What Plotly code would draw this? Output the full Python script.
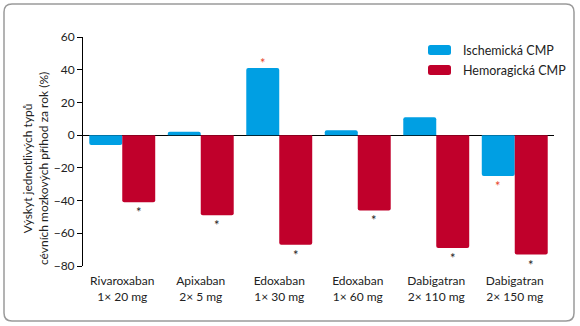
import plotly.graph_objects as go

# Drug regimens (two-line tick labels)
categories = [
    "Rivaroxaban<br>1× 20 mg",
    "Apixaban<br>2× 5 mg",
    "Edoxaban<br>1× 30 mg",
    "Edoxaban<br>1× 60 mg",
    "Dabigatran<br>2× 110 mg",
    "Dabigatran<br>2× 150 mg",
]

# Change in stroke incidence per year (%)
ischemic = [-6, 2, 41, 3, 11, -25]
hemorrhagic = [-41, -49, -67, -46, -69, -73]

# Statistically significant differences, marked with an asterisk
ischemic_sig = [False, False, True, False, False, True]
hemorrhagic_sig = [True, True, True, True, True, True]

series_names = ["Ischemická CMP", "Hemoragická CMP"]
y_title = "Výskyt jednotlivých typů<br>cévních mozkových příhod za rok (%)"

BLUE = "#009fe3"
RED = "#c0002b"
FONT = "Lato"
TXT = "#222222"

fig = go.Figure()
for name, vals, col in ((series_names[0], ischemic, BLUE),
                        (series_names[1], hemorrhagic, RED)):
    fig.add_trace(go.Bar(
        x=categories, y=vals, name=name, showlegend=False,
        marker=dict(color=col, cornerradius=2, line=dict(width=0)),
    ))

# Asterisks just beyond the bar ends
GAP = 0.16
half = (1 - GAP) / 4
annotations = []
for i in range(len(categories)):
    for val, sig, off, col in (
        (ischemic[i], ischemic_sig[i], -half, "#e8452c"),
        (hemorrhagic[i], hemorrhagic_sig[i], half, TXT),
    ):
        if not sig:
            continue
        up = val > 0
        annotations.append(dict(
            x=i + off, y=val, xref="x", yref="y", text="*",
            showarrow=False, font=dict(family=FONT, size=13, color=col),
            yanchor="middle", yshift=5 if up else -10,
        ))

# Pixel <-> paper helpers for the fixed page size
W, H = 580, 326
ML, MR, MT, MB = 83, 26, 37, 60
pw, ph = W - ML - MR, H - MT - MB


def px(x):
    return (x - ML) / pw


def py(y):
    return (H - MB - y) / ph


# Axis title as a rotated annotation
annotations.append(dict(
    x=px(35), y=py(169), xref="paper", yref="paper", text=y_title,
    textangle=-90, showarrow=False, xanchor="center", yanchor="middle",
    font=dict(family=FONT, size=12, color=TXT),
))

shapes = []


def rounded_rect(x0, y0, x1, y1, r):
    return (
        f"M{px(x0 + r)},{py(y0)} L{px(x1 - r)},{py(y0)} "
        f"Q{px(x1)},{py(y0)} {px(x1)},{py(y0 + r)} "
        f"L{px(x1)},{py(y1 - r)} Q{px(x1)},{py(y1)} {px(x1 - r)},{py(y1)} "
        f"L{px(x0 + r)},{py(y1)} Q{px(x0)},{py(y1)} {px(x0)},{py(y1 - r)} "
        f"L{px(x0)},{py(y0 + r)} Q{px(x0)},{py(y0)} {px(x0 + r)},{py(y0)} Z"
    )


# Legend: rounded swatches with labels
for k, (name, col) in enumerate(zip(series_names, (BLUE, RED))):
    yc = 50 + 20 * k
    shapes.append(dict(
        type="path", path=rounded_rect(428, yc - 5, 451, yc + 5, 2.5),
        xref="paper", yref="paper", fillcolor=col, line=dict(width=0),
    ))
    annotations.append(dict(
        x=px(461), y=py(yc), xref="paper", yref="paper", text=name,
        showarrow=False, xanchor="left", yanchor="middle",
        font=dict(family=FONT, size=12.5, color=TXT),
    ))

# Outer rounded frame
shapes.append(dict(
    type="path", path=rounded_rect(4, 4, 574, 321, 8),
    xref="paper", yref="paper",
    line=dict(color="#9a9a9a", width=1.5), layer="below",
))

fig.update_layout(
    width=W, height=H, autosize=False,
    margin=dict(l=ML, r=MR, t=MT, b=MB),
    paper_bgcolor="white", plot_bgcolor="white",
    font=dict(family=FONT, size=12, color=TXT),
    barmode="group", bargap=GAP, bargroupgap=0,
    showlegend=False,
    xaxis=dict(
        showline=False, showgrid=False, ticks="", zeroline=False,
        tickfont=dict(family=FONT, size=12), range=[-0.5, 5.5],
        ticklabelstandoff=6,
    ),
    yaxis=dict(
        range=[-80, 60], dtick=20, showgrid=False,
        showline=True, linecolor="black", linewidth=1,
        ticks="outside", ticklen=5, tickcolor="black",
        zeroline=True, zerolinecolor="black", zerolinewidth=1.2,
        tickfont=dict(family=FONT, size=12),
    ),
    annotations=annotations,
    shapes=shapes,
)

fig.write_html("out.html")
